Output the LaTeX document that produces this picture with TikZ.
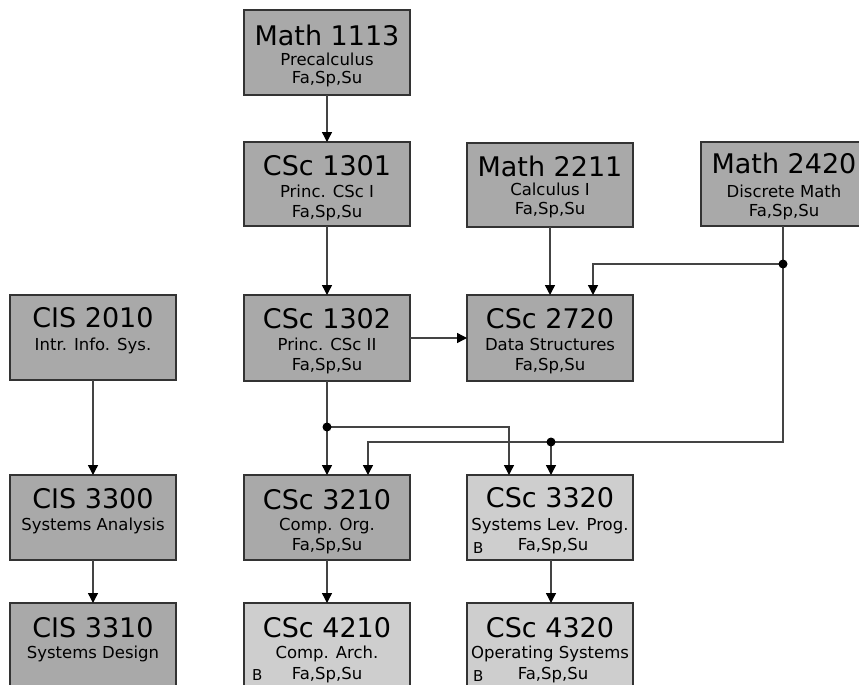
\documentclass[tikz,border=0pt]{standalone}
\usepackage{fontspec}
\setmainfont{DejaVu Sans}
\usetikzlibrary{arrows.meta,calc}
\definecolor{darkfill}{HTML}{A9A9A9}
\definecolor{lightfill}{HTML}{CECECE}
\definecolor{edgecol}{HTML}{333333}
\definecolor{wirecol}{HTML}{444444}
\tikzset{
  coursebox/.style={rectangle, draw=edgecol, line width=1.2pt, minimum width=166pt, minimum height=85pt, inner sep=0pt, outer sep=0pt, anchor=north west},
  darkbox/.style={coursebox, fill=darkfill},
  lightbox/.style={coursebox, fill=lightfill},
  titletext/.style={inner sep=0pt, anchor=base, font=\fontsize{27pt}{29pt}\selectfont},
  subtext/.style={inner sep=0pt, anchor=base, font=\fontsize{16.5pt}{18pt}\selectfont},
  btext/.style={inner sep=0pt, anchor=base west, font=\fontsize{15pt}{17pt}\selectfont},
  wire/.style={draw=wirecol, line width=1.4pt},
  arr/.style={wire, -{Triangle[length=10pt,width=10pt,fill=black,color=black]}},
  junction/.style={circle, fill=black, inner sep=0pt, minimum size=9pt}
}
\begin{document}
\begin{tikzpicture}[x=1pt,y=-1pt]
\useasboundingbox (0,0) rectangle (859,685);
\clip (0,0) rectangle (859,685);
\fill[white] (0,0) rectangle (859,685);

% boxes
\node[darkbox] (m1113) at (244,10) {};
\node[darkbox, minimum height=84pt] (c1301) at (244,142) {};
\node[darkbox, minimum height=84pt] (m2211) at (467,143) {};
\node[darkbox, minimum height=84pt] (m2420) at (701,142) {};
\node[darkbox] (cis2010) at (10,295) {};
\node[darkbox, minimum height=86pt] (c1302) at (244,295) {};
\node[darkbox, minimum height=86pt] (c2720) at (467,295) {};
\node[darkbox] (cis3300) at (10,475) {};
\node[darkbox] (c3210) at (244,475) {};
\node[lightbox] (c3320) at (467,475) {};
\node[darkbox, minimum height=100pt] (cis3310) at (10,603) {};
\node[lightbox, minimum height=100pt] (c4210) at (244,603) {};
\node[lightbox, minimum height=100pt] (c4320) at (467,603) {};

% texts
\node[titletext] (m1113a) at ($(m1113.north)+(0,36)$) {Math 1113};
\node[subtext] (m1113b) at ($(m1113.north)+(0,56)$) {Precalculus};
\node[subtext] (m1113c) at ($(m1113.north)+(0,74)$) {Fa,Sp,Su};

\node[titletext] (c1301a) at ($(c1301.north)+(0,33)$) {CSc 1301};
\node[subtext] (c1301b) at ($(c1301.north)+(0,55)$) {Princ. CSc I};
\node[subtext] (c1301c) at ($(c1301.north)+(0,75)$) {Fa,Sp,Su};

\node[titletext] (m2211a) at ($(m2211.north)+(0,33)$) {Math 2211};
\node[subtext] (m2211b) at ($(m2211.north)+(0,52)$) {Calculus I};
\node[subtext] (m2211c) at ($(m2211.north)+(0,71)$) {Fa,Sp,Su};

\node[titletext] (m2420a) at ($(m2420.north)+(0,31)$) {Math 2420};
\node[subtext] (m2420b) at ($(m2420.north)+(0,55)$) {Discrete Math};
\node[subtext] (m2420c) at ($(m2420.north)+(0,74)$) {Fa,Sp,Su};

\node[titletext] (cis2010a) at ($(cis2010.north)+(0,32)$) {CIS 2010};
\node[subtext] (cis2010b) at ($(cis2010.north)+(0,55)$) {Intr. Info. Sys.};

\node[titletext] (c1302a) at ($(c1302.north)+(0,33)$) {CSc 1302};
\node[subtext] (c1302b) at ($(c1302.north)+(0,55)$) {Princ. CSc II};
\node[subtext] (c1302c) at ($(c1302.north)+(0,75)$) {Fa,Sp,Su};

\node[titletext] (c2720a) at ($(c2720.north)+(0,33)$) {CSc 2720};
\node[subtext] (c2720b) at ($(c2720.north)+(0,55)$) {Data Structures};
\node[subtext] (c2720c) at ($(c2720.north)+(0,75)$) {Fa,Sp,Su};

\node[titletext] (cis3300a) at ($(cis3300.north)+(0,33)$) {CIS 3300};
\node[subtext] (cis3300b) at ($(cis3300.north)+(0,55)$) {Systems Analysis};

\node[titletext] (c3210a) at ($(c3210.north)+(0,34)$) {CSc 3210};
\node[subtext] (c3210b) at ($(c3210.north)+(0,55)$) {Comp. Org.};
\node[subtext] (c3210c) at ($(c3210.north)+(0,75)$) {Fa,Sp,Su};

\node[titletext] (c3320a) at ($(c3320.north)+(0,32)$) {CSc 3320};
\node[subtext] (c3320b) at ($(c3320.north)+(0,55)$) {Systems Lev. Prog.};
\node[subtext] (c3320c) at ($(c3320.north)+(3,75)$) {Fa,Sp,Su};
\node[btext] (c3320d) at ($(c3320.north west)+(6,78)$) {B};

\node[titletext] (cis3310a) at ($(cis3310.north)+(0,34)$) {CIS 3310};
\node[subtext] (cis3310b) at ($(cis3310.north)+(0,55)$) {Systems Design};

\node[titletext] (c4210a) at ($(c4210.north)+(0,34)$) {CSc 4210};
\node[subtext] (c4210b) at ($(c4210.north)+(0,55)$) {Comp. Arch.};
\node[subtext] (c4210c) at ($(c4210.north)+(0,76)$) {Fa,Sp,Su};
\node[btext] (c4210d) at ($(c4210.north west)+(8,77)$) {B};

\node[titletext] (c4320a) at ($(c4320.north)+(0,34)$) {CSc 4320};
\node[subtext] (c4320b) at ($(c4320.north)+(0,55)$) {Operating Systems};
\node[subtext] (c4320c) at ($(c4320.north)+(3,76)$) {Fa,Sp,Su};
\node[btext] (c4320d) at ($(c4320.north west)+(6,78)$) {B};

% junctions
\coordinate (j1) at (783,264);
\coordinate (j2) at (327,427);
\coordinate (j3) at (551,442);

% simple connectors
\draw[arr] (m1113.south) -- (c1301.north);
\draw[arr] (c1301.south) -- (c1302.north);
\draw[arr] (c1302.east |- 0,338) -- (c2720.west |- 0,338);
\draw[arr] (m2211.south -| 550,0) -- (c2720.north -| 550,0);
\draw[arr] (cis2010.south) -- (cis3300.north);
\draw[arr] (cis3300.south) -- (cis3310.north);
\draw[arr] (c3210.south) -- (c4210.north);
\draw[arr] (c3320.south -| 551,0) -- (c4320.north -| 551,0);

% Math 2420 tree
\draw[wire] (m2420.south -| j1) -- (j1);
\draw[arr] (j1) -- (593,264) -- (c2720.north -| 593,0);
\draw[wire] (j1) -- (783,442) -- (j3);
\draw[arr] (j3) -- (368,442) -- (c3210.north -| 368,0);
\draw[arr] (j3) -- (c3320.north -| j3);

% CSc 1302 tree
\draw[wire] (c1302.south) -- (j2);
\draw[arr] (j2) -- (c3210.north);
\draw[arr] (j2) -- (509,427) -- (c3320.north -| 509,0);

\node[junction] (dot1) at (j1) {};
\node[junction] (dot2) at (j2) {};
\node[junction] (dot3) at (j3) {};
\end{tikzpicture}
\end{document}
